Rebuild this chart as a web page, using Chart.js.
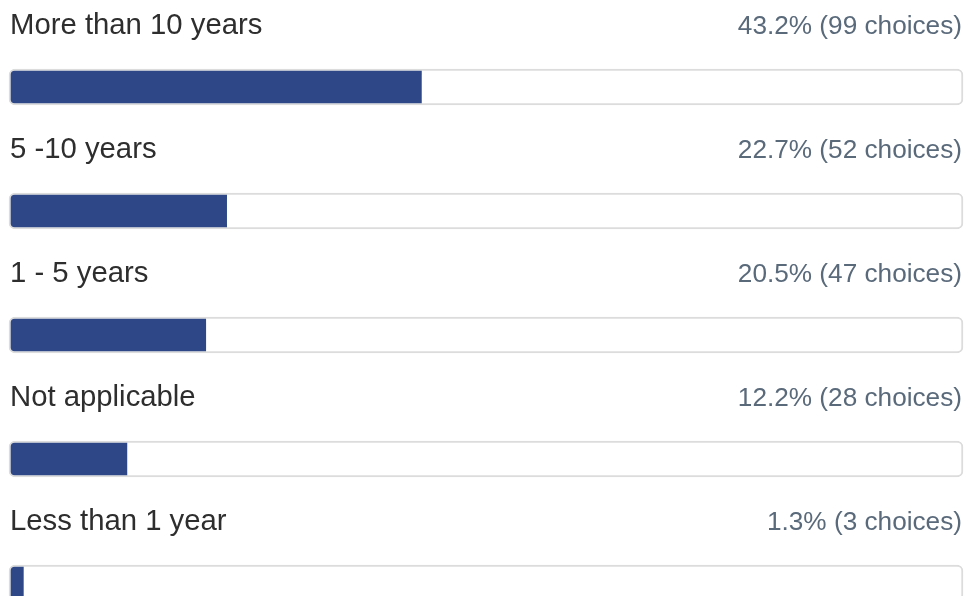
<!DOCTYPE html>
<html>
<head>
<meta charset="utf-8">
<script src="https://cdn.jsdelivr.net/npm/chart.js@4/dist/chart.umd.min.js"></script>
<style>
  html, body { margin: 0; padding: 0; background: #fff; overflow: hidden; }
  #wrap { width: 965px; height: 596px; overflow: hidden; position: relative; }
</style>
</head>
<body>
<div id="wrap"><canvas id="c" width="965" height="645"></canvas></div>
<script>
const categories = ["More than 10 years", "5 -10 years", "1 - 5 years", "Not applicable", "Less than 1 year"];
const percents = [43.2, 22.7, 20.5, 12.2, 1.3];
const choices = [99, 52, 47, 28, 3];
const valueLabels = ["43.2% (99 choices)", "22.7% (52 choices)", "20.5% (47 choices)", "12.2% (28 choices)", "1.3% (3 choices)"];

const textPlugin = {
  id: 'rowText',
  afterDatasetsDraw(chart) {
    const ctx = chart.ctx;
    const ys = chart.scales.y;
    const area = chart.chartArea;
    ctx.save();
    categories.forEach((cat, i) => {
      const cy = ys.getPixelForValue(i);
      const base = cy - 53;
      ctx.textBaseline = 'alphabetic';
      ctx.font = '29.3px "Liberation Sans", Arial, sans-serif';
      ctx.fillStyle = '#2e2e2e';
      ctx.textAlign = 'left';
      ctx.fillText(cat, area.left - 1, base);
      ctx.font = '26.2px "Liberation Sans", Arial, sans-serif';
      ctx.fillStyle = '#5a6a7b';
      ctx.textAlign = 'right';
      ctx.fillText(valueLabels[i], area.right + 1, base);
    });
    ctx.restore();
  }
};

new Chart(document.getElementById('c'), {
  type: 'bar',
  data: {
    labels: categories,
    datasets: [
      {
        label: 'Share',
        data: percents,
        backgroundColor: '#2e4787',
        borderWidth: 0,
        borderSkipped: false,
        borderRadius: { topLeft: 4, bottomLeft: 4, topRight: 0, bottomRight: 0 },
        barThickness: 32,
        clip: false,
        order: 0
      },
      {
        label: 'Track',
        data: categories.map(() => [-0.21, 100.21]),
        backgroundColor: '#ffffff',
        borderColor: '#dcdcdc',
        borderWidth: 2,
        borderSkipped: false,
        borderRadius: 6,
        barThickness: 36,
        clip: false,
        order: 1
      }
    ]
  },
  options: {
    indexAxis: 'y',
    responsive: false,
    animation: false,
    events: [],
    layout: { padding: { top: 25, bottom: 0, left: 11, right: 4 } },
    plugins: { legend: { display: false }, tooltip: { enabled: false } },
    scales: {
      x: { type: 'linear', min: 0, max: 100, display: false, stacked: false },
      y: { type: 'category', display: false, stacked: true, offset: true }
    }
  },
  plugins: [textPlugin]
});
</script>
</body>
</html>
